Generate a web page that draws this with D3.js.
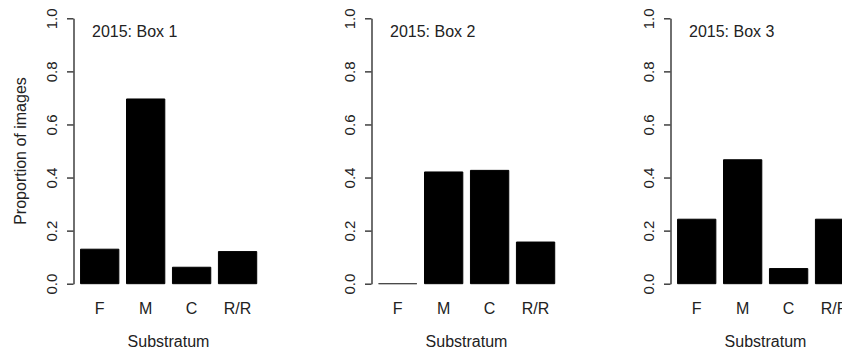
<!DOCTYPE html>
<html>
<head>
<meta charset="utf-8">
<script src="https://cdn.jsdelivr.net/npm/d3@7"></script>
<style>
  html, body { margin: 0; padding: 0; background: #fff; }
  svg { display: block; }
  text { font-family: "Liberation Sans", Arial, Helvetica, sans-serif; fill: #222; }
</style>
</head>
<body>
<svg id="chart" width="842" height="354"></svg>
<script>
// Substratum categories and the share of images in each, per box (2015)
const categories = ["F", "M", "C", "R/R"];
const box1 = [0.130, 0.696, 0.062, 0.121];
const box2 = [0.000, 0.421, 0.427, 0.157];
const box3 = [0.243, 0.467, 0.057, 0.243];
const panelTitles = ["2015: Box 1", "2015: Box 2", "2015: Box 3"];
const yTicks = [0, 0.2, 0.4, 0.6, 0.8, 1.0];
const yTitle = "Proportion of images";
const xTitle = "Substratum";

const panels = [box1, box2, box3].map((values, i) => ({ title: panelTitles[i], values }));

const svg = d3.select("#chart");

// Layout of each panel (barplot-style: bar width 1, space 0.2)
const firstAxisX = 72.5;
const panelStep = 298.7;
const unit = 38.3;                 // pixels per bar width
const yTop = 18.3, yBottom = 283.7;

const y = d3.scaleLinear().domain([0, 1]).range([yBottom, yTop]);

panels.forEach((p, i) => {
  const axisX = Math.round(firstAxisX + i * panelStep) + 0.5;
  // user coordinates: plot region starts at 0.016 (4% extension of 0.2..4.8)
  const x0 = axisX - 0.016 * unit;
  const x = d3.scaleBand()
    .domain(categories)
    .range([x0, x0 + 5.0 * unit])
    .paddingInner(0.2 / 1.2)
    .paddingOuter(0.2 / 1.2);

  const g = svg.append("g");

  // bars: filled outline paths, so a zero-height bar still shows its border
  g.selectAll("path.bar")
    .data(categories.map((c, k) => ({ c, v: p.values[k] })))
    .join("path")
    .attr("class", "bar")
    .attr("d", d => {
      const x1 = x(d.c), x2 = x1 + x.bandwidth();
      return `M${x1},${y(0)}H${x2}V${y(d.v)}H${x1}Z`;
    })
    .attr("fill", "#000")
    .attr("stroke", d => d.v === 0 ? "#444" : "#000")
    .attr("stroke-width", 1);

  // y axis (line between the extreme ticks, ticks pointing left)
  const axis = g.append("g")
    .attr("transform", `translate(${axisX},0)`)
    .call(d3.axisLeft(y).tickValues(yTicks).tickSize(6.5).tickSizeOuter(0).tickFormat(d3.format(".1f")));
  axis.select(".domain")
    .attr("stroke", "#333").attr("stroke-width", 1.4).attr("fill", "none");
  axis.selectAll(".tick line").attr("stroke", "#333").attr("stroke-width", 1.4);
  axis.selectAll(".tick text")
    .attr("x", null).attr("dy", null)
    .attr("transform", "translate(-22.5,0) rotate(-90)")
    .attr("text-anchor", "middle")
    .attr("dominant-baseline", "central")
    .attr("font-size", 15)
    .attr("fill", "#222");

  // category labels
  g.selectAll("text.cat")
    .data(categories)
    .join("text")
    .attr("class", "cat")
    .attr("x", d => x(d) + x.bandwidth() / 2)
    .attr("y", 314)
    .attr("text-anchor", "middle")
    .attr("font-size", 16)
    .text(d => d);

  // panel title
  g.append("text")
    .attr("x", axisX + 18.5)
    .attr("y", 37)
    .attr("font-size", 16)
    .text(p.title);

  // x axis title
  g.append("text")
    .attr("x", axisX + 95)
    .attr("y", 347)
    .attr("text-anchor", "middle")
    .attr("font-size", 16)
    .text(xTitle);

  // y axis title (first panel only)
  if (i === 0) {
    g.append("text")
      .attr("transform", `translate(20,${(yTop + yBottom) / 2}) rotate(-90)`)
      .attr("text-anchor", "middle")
      .attr("dominant-baseline", "central")
      .attr("font-size", 16)
      .text(yTitle);
  }
});
</script>
</body>
</html>
